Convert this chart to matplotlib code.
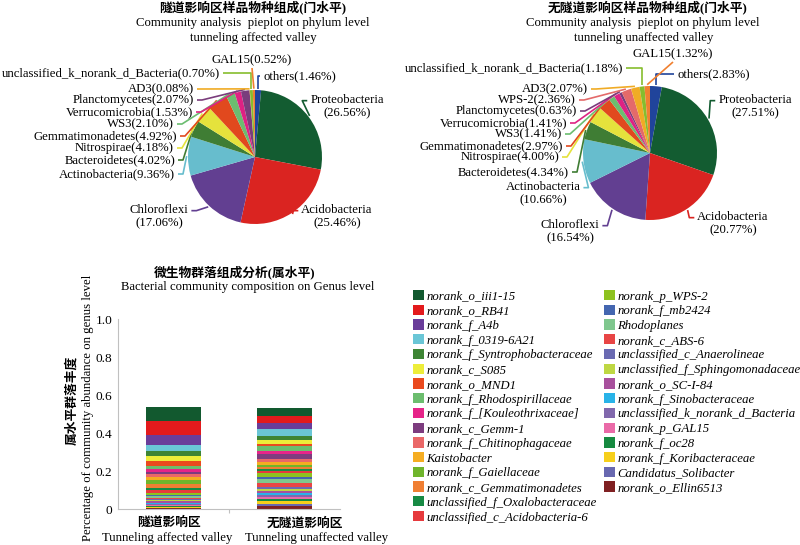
import matplotlib
matplotlib.use("Agg")
import matplotlib.pyplot as plt
import numpy as np
from matplotlib.patches import Patch

plt.rcParams["font.family"] = ["Liberation Serif", "Noto Sans CJK SC"]

# ---- phylum level pies ----
phyla_a = ["others", "Proteobacteria", "Acidobacteria", "Chloroflexi", "Actinobacteria",
           "Bacteroidetes", "Nitrospirae", "Gemmatimonadetes", "WS3", "Verrucomicrobia",
           "Planctomycetes", "AD3", "unclassified_k_norank_d_Bacteria", "GAL15"]
pct_a = [1.46, 26.56, 25.46, 17.06, 9.36, 4.02, 4.18, 4.92, 2.10, 1.53, 2.07, 0.08, 0.70, 0.52]

phyla_b = ["others", "Proteobacteria", "Acidobacteria", "Chloroflexi", "Actinobacteria",
           "Bacteroidetes", "Nitrospirae", "Gemmatimonadetes", "WS3", "Verrucomicrobia",
           "Planctomycetes", "WPS-2", "AD3", "unclassified_k_norank_d_Bacteria", "GAL15"]
pct_b = [2.83, 27.51, 20.77, 16.54, 10.66, 4.34, 4.00, 2.97, 1.41, 1.41, 0.63, 2.36, 2.07, 1.18, 1.32]

phylum_colors = {
    "Proteobacteria": "#135c31", "Acidobacteria": "#da2421", "Chloroflexi": "#623f91",
    "Actinobacteria": "#67bdcd", "Bacteroidetes": "#3f7d34", "Nitrospirae": "#e5e23c",
    "Gemmatimonadetes": "#e1491e", "WS3": "#6bbd70", "Verrucomicrobia": "#de2283",
    "Planctomycetes": "#7a3d7c", "WPS-2": "#e46a6a", "AD3": "#f0ab25",
    "unclassified_k_norank_d_Bacteria": "#86bd2e", "GAL15": "#f08030", "others": "#20449b",
}

# ---- genus level stacked bars ----
genus_names = ["norank_o_iii1-15", "norank_o_RB41", "norank_f_A4b", "norank_f_0319-6A21",
               "norank_f_Syntrophobacteraceae", "norank_c_S085", "norank_o_MND1",
               "norank_f_Rhodospirillaceae", "norank_f_[Kouleothrixaceae]", "norank_c_Gemm-1",
               "norank_f_Chitinophagaceae", "Kaistobacter", "norank_f_Gaiellaceae",
               "norank_c_Gemmatimonadetes", "unclassified_f_Oxalobacteraceae",
               "unclassified_c_Acidobacteria-6", "norank_p_WPS-2", "norank_f_mb2424",
               "Rhodoplanes", "norank_c_ABS-6", "unclassified_c_Anaerolineae",
               "unclassified_f_Sphingomonadaceae", "norank_o_SC-I-84", "norank_f_Sinobacteraceae",
               "unclassified_k_norank_d_Bacteria", "norank_p_GAL15", "norank_f_oc28",
               "norank_f_Koribacteraceae", "Candidatus_Solibacter", "norank_o_Ellin6513"]
affected = [0.075, 0.070, 0.053, 0.033, 0.026, 0.025, 0.030, 0.016, 0.012, 0.014,
            0.012, 0.019, 0.018, 0.026, 0.010, 0.014, 0.009, 0.009, 0.007, 0.007,
            0.007, 0.005, 0.007, 0.009, 0.005, 0.004, 0.004, 0.004, 0.004, 0.003]
unaffected = [0.039, 0.039, 0.032, 0.037, 0.021, 0.019, 0.011, 0.026, 0.018, 0.023,
              0.014, 0.016, 0.014, 0.009, 0.011, 0.009, 0.025, 0.009, 0.018, 0.025,
              0.011, 0.007, 0.011, 0.011, 0.011, 0.011, 0.012, 0.012, 0.012, 0.016]
genus_colors = ["#12592f", "#e31a1c", "#6a3d9a", "#6ac6d6", "#3e8535", "#eded3a", "#ea4a1e",
                "#6cbd6e", "#e62489", "#7d3c7f", "#ea6868", "#f5ad22", "#6fb52c", "#f07f33",
                "#178a44", "#e63a3d", "#8dc21f", "#4466b0", "#7fc78e", "#e84545", "#6a6ab2",
                "#bed743", "#a8509d", "#29b3e8", "#8168ad", "#ea6aa8", "#168a40", "#f6cf1b",
                "#6868b0", "#7f2022"]
groups_cn = ["隧道影响区", "无隧道影响区"]
groups_en = ["Tunneling affected valley", "Tunneling unaffected valley"]
yticks = [0, 0.2, 0.4, 0.6, 0.8, 1.0]
ytick_labels = ["0", "0.2", "0.4", "0.6", "0.8", "1.0"]

W, H = 800, 545
FS = 9.2
fig = plt.figure(figsize=(8, 5.45), dpi=100)


def fig_box(x0, y0, x1, y1):
    return [x0 / W, 1 - y1 / H, (x1 - x0) / W, (y1 - y0) / H]


def ftext(x, y, s, **kw):
    kw.setdefault("ha", "center")
    kw.setdefault("va", "center")
    kw.setdefault("fontsize", FS)
    return fig.text(x / W, 1 - y / H, s, **kw)


# label layout: name -> (x px, y px, ha, leader mode, two lines)
layout_a = {
    "others": (263, 76, "left", "v", False),
    "Proteobacteria": (347, 107, "center", "h", True),
    "Acidobacteria": (337, 217, "center", "h", True),
    "Chloroflexi": (159, 217, "center", "h", True),
    "Actinobacteria": (175, 174, "right", "h", False),
    "Bacteroidetes": (175, 160, "right", "h", False),
    "Nitrospirae": (174, 148, "right", "h", False),
    "Gemmatimonadetes": (177, 136, "right", "h", False),
    "WS3": (174, 124, "right", "h", False),
    "Verrucomicrobia": (193, 112, "right", "h", False),
    "Planctomycetes": (194, 100, "right", "h", False),
    "AD3": (194, 89, "right", "h", False),
    "unclassified_k_norank_d_Bacteria": (220, 73, "right", "v", False),
    "GAL15": (252, 60, "center", "v", False),
}
layout_b = {
    "others": (677, 74, "left", "v", False),
    "Proteobacteria": (755, 107, "center", "h", True),
    "Acidobacteria": (733, 224, "center", "h", True),
    "Chloroflexi": (570, 232, "center", "h", True),
    "Actinobacteria": (543, 194, "center", "h", True),
    "Bacteroidetes": (569, 172, "right", "h", False),
    "Nitrospirae": (559, 157, "right", "h", False),
    "Gemmatimonadetes": (563, 146, "right", "h", False),
    "WS3": (562, 134, "right", "h", False),
    "Verrucomicrobia": (567, 123, "right", "h", False),
    "Planctomycetes": (577, 111, "right", "h", False),
    "WPS-2": (576, 100, "right", "h", False),
    "AD3": (588, 89, "right", "h", False),
    "unclassified_k_norank_d_Bacteria": (623, 68, "right", "v", False),
    "GAL15": (673, 54, "center", "v", False),
}


def draw_pie(box, cx, cy, names, pct, layout):
    R = 67.0
    x0, y0, x1, y1 = box
    ax = fig.add_axes(fig_box(*box))
    cols = [phylum_colors[n] for n in names]
    wedges, _ = ax.pie(pct, colors=cols, startangle=90, counterclock=False,
                       wedgeprops=dict(linewidth=0))
    ax.set_aspect("auto")
    ax.set_xlim((x0 - cx) / R, (x1 - cx) / R)
    ax.set_ylim((cy - y1) / R, (cy - y0) / R)
    ax.axis("off")

    texts = []
    for n, p in zip(names, pct):
        lx, ly, ha, mode, two = layout[n]
        s = f"{n}\n({p:.2f}%)" if two else f"{n}({p:.2f}%)"
        texts.append(ax.text((lx - cx) / R, (cy - ly) / R, s, ha=ha, va="center",
                             fontsize=FS, linespacing=1.15))
    fig.canvas.draw()
    rend = fig.canvas.get_renderer()
    inv = ax.transData.inverted()
    px = 1 / R
    for w, n, t, c in zip(wedges, names, texts, cols):
        lx, ly, ha, mode, two = layout[n]
        a = np.deg2rad((w.theta1 + w.theta2) / 2)
        ex, ey = 1.02 * np.cos(a), 1.02 * np.sin(a)
        bb = t.get_window_extent(rend)
        (bx0, by0), (bx1, by1) = inv.transform([[bb.x0, bb.y0], [bb.x1, bb.y1]])
        ay = by1 - (by1 - by0) / 4 if two else (by0 + by1) / 2
        mx = (bx0 + bx1) / 2
        if mode == "v":
            if ha == "center":
                pts = [(mx, by0 - 2 * px), (ex, ey)]
            elif ha == "right":
                pts = [(bx1 + 3 * px, ay), (ex, ay), (ex, ey)]
            else:
                pts = [(bx0 - 3 * px, ay), (ex, ay), (ex, ey)]
        else:
            side = ha
            if ha == "center":
                side = "right" if ex > mx else "left"
            if side == "right":
                sx = bx1 + 3 * px
                pts = [(sx, ay), (sx + 5 * px, ay), (ex, ey)]
            else:
                sx = bx0 - 3 * px
                pts = [(sx, ay), (sx - 5 * px, ay), (ex, ey)]
        pts = np.array(pts)
        ax.plot(pts[:, 0], pts[:, 1], color=c, lw=1.2, solid_capstyle="butt")
    return ax


draw_pie((0, 0, 400, 250), 255, 157, phyla_a, pct_a, layout_a)
draw_pie((400, 0, 800, 250), 650, 153, phyla_b, pct_b, layout_b)

ftext(253, 7, "隧道影响区样品物种组成(门水平)", fontweight="bold")
ftext(253, 23, "Community analysis  pieplot on phylum level")
ftext(253, 38, "tunneling affected valley")
ftext(647, 7, "无隧道影响区样品物种组成(门水平)", fontweight="bold")
ftext(643, 23, "Community analysis  pieplot on phylum level")
ftext(644, 38, "tunneling unaffected valley")

# ---- stacked bar ----
bx = fig.add_axes(fig_box(118, 319, 340, 509))
xpos = np.arange(len(groups_cn))
bottom = np.zeros(len(groups_cn))
for name, a, b, c in reversed(list(zip(genus_names, affected, unaffected, genus_colors))):
    vals = np.array([a, b])
    bx.bar(xpos, vals, 0.49, bottom=bottom, color=c, linewidth=0)
    bottom += vals
bx.set_xlim(-0.5, 1.5)
bx.set_ylim(0, 1)
bx.set_yticks(yticks)
bx.set_yticklabels(ytick_labels, fontsize=9.6)
bx.set_xticks([0.5])
bx.set_xticklabels([""])
for s in ["top", "right"]:
    bx.spines[s].set_visible(False)
for s in ["left", "bottom"]:
    bx.spines[s].set_color("#c0c0c0")
bx.tick_params(axis="y", length=0, pad=4)
bx.tick_params(axis="x", length=3, color="#c0c0c0", direction="out")

ftext(235, 272, "微生物群落组成分析(属水平)", fontweight="bold")
ftext(248, 287, "Bacterial community composition on Genus level")
ftext(72, 400, "属水平群落丰度", rotation=90, fontweight="bold")
ftext(88, 408, "Percentage of community abundance on genus level", rotation=90)
cat_x_cn = [169, 305]
cat_x_en = [167, 317]
for i in range(len(groups_cn)):
    ftext(cat_x_cn[i], 523, groups_cn[i], fontweight="bold")
    ftext(cat_x_en[i], 538, groups_en[i])

handles = [Patch(facecolor=c, edgecolor="none") for c in genus_colors]
leg_kw = dict(loc="upper left", frameon=False,
              prop={"family": ["Liberation Serif"], "style": "italic", "size": FS},
              handlelength=0.86, handleheight=0.86, handletextpad=0.18,
              labelspacing=0.17, borderpad=0, borderaxespad=0)
fig.legend(handles[:16], genus_names[:16], bbox_to_anchor=(413 / W, 1 - 290 / H), **leg_kw)
fig.legend(handles[16:], genus_names[16:], bbox_to_anchor=(604 / W, 1 - 290 / H), **leg_kw)

fig.savefig("out.png", dpi=100)
